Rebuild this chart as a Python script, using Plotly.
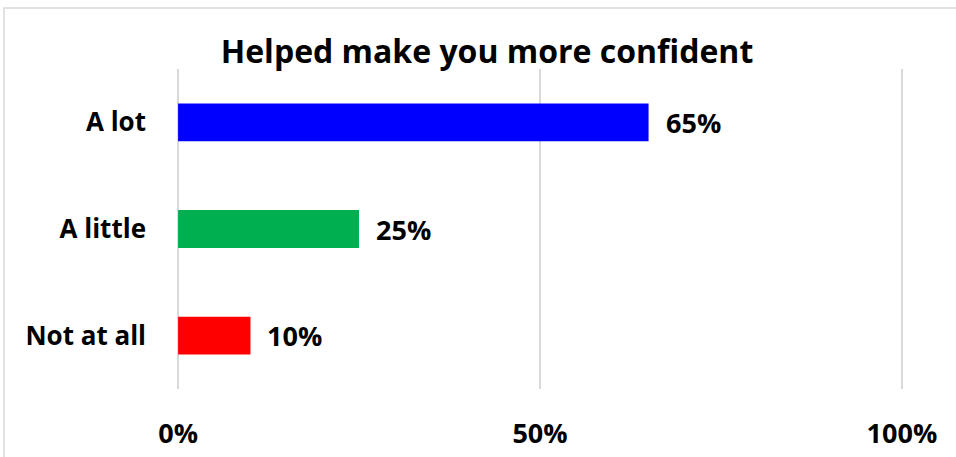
import plotly.graph_objects as go

categories = ["A lot", "A little", "Not at all"]
values = [65, 25, 10]
colors = ["#0000FF", "#00B050", "#FF0000"]
tick_vals = [0, 50, 100]
tick_text = ["0%", "50%", "100%"]
title_text = "Helped make you more confident"

FONT = "'Open Sans', 'Noto Sans', sans-serif"

W, H = 956, 457
L, R, T, B = 177, 53, 69, 68
pw, ph = W - L - R, H - T - B

fig = go.Figure()
fig.add_trace(go.Bar(
    y=categories, x=values, orientation="h",
    marker=dict(color=colors, line=dict(width=0)),
    width=0.355, hoverinfo="skip",
))

for c, v in zip(categories, values):
    fig.add_annotation(x=v, y=c, xref="x", yref="y", text=f"<b>{v}%</b>",
                       showarrow=False, xanchor="left", yanchor="middle",
                       xshift=15, font=dict(family=FONT, size=27, color="#000000"))

# outer chart border
def px_x(p):
    return (p - L) / pw
def px_y(p):
    return (H - B - p) / ph
fig.add_shape(type="rect", xref="paper", yref="paper",
              x0=px_x(4), x1=px_x(W + 10), y0=px_y(H + 10), y1=px_y(8),
              line=dict(color="#D9D9D9", width=1.5), fillcolor="rgba(0,0,0,0)", layer="below")

fig.update_layout(
    width=W, height=H,
    margin=dict(l=L, r=R, t=T, b=B, pad=0, autoexpand=False),
    paper_bgcolor="white", plot_bgcolor="white",
    showlegend=False,
    title=dict(text=f"<b>{title_text}</b>", x=487 / W, xref="container", xanchor="center",
               y=1 - 52 / H, yref="container", yanchor="middle",
               font=dict(family=FONT, size=32, color="#000000")),
    font=dict(family=FONT, color="#000000"),
)
fig.update_xaxes(range=[-0.15, 100.15], tickvals=tick_vals, ticktext=[f"<b>{t}</b>" for t in tick_text],
                 showgrid=True, gridcolor="#D9D9D9", gridwidth=1.5, zeroline=False,
                 showline=False, ticks="", ticklabelstandoff=26, automargin=False,
                 tickfont=dict(family=FONT, size=27, color="#000000"), fixedrange=True)
fig.update_yaxes(categoryorder="array", categoryarray=categories[::-1],
                 ticktext=[f"<b>{c}</b>" for c in categories[::-1]], tickvals=categories[::-1],
                 showgrid=False, zeroline=False, showline=False, ticks="", ticklabelstandoff=30,
                 automargin=False,
                 tickfont=dict(family=FONT, size=26, color="#000000"), fixedrange=True)

fig.write_html("out.html", config={"displayModeBar": False},
               post_script="document.body.style.margin='0';document.body.style.overflow='hidden';")
